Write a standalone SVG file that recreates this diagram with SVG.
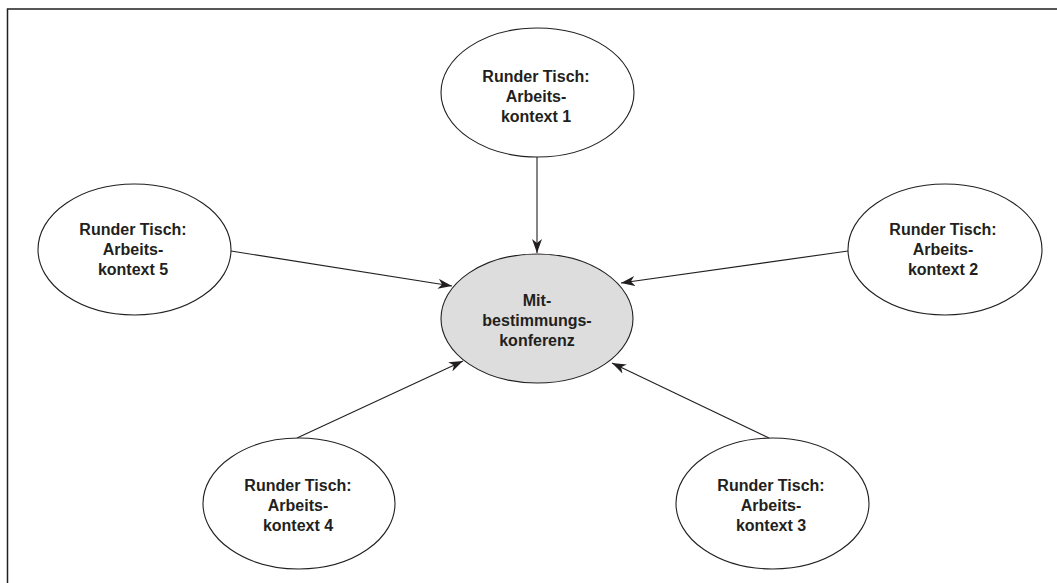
<svg xmlns="http://www.w3.org/2000/svg" width="1057" height="583" viewBox="0 0 1057 583">
<style>
.node ellipse{fill:#fff;stroke:#231f20;stroke-width:1.1}
#center ellipse{fill:#dddddd}
.node text{font-family:"Liberation Sans",Arial,sans-serif;font-weight:bold;font-size:16px;fill:#231f20;text-anchor:middle}
.conn line{stroke:#231f20;stroke-width:1.1;fill:none;marker-end:url(#arr)}
.frame{stroke:#231f20;stroke-width:1.5;fill:none}
</style>
<defs>
<marker id="arr" viewBox="0 0 14 10" refX="14" refY="5" markerWidth="14" markerHeight="10" markerUnits="userSpaceOnUse" orient="auto">
<path d="M0,0 L14,5 L0,10 L4,5 z" fill="#231f20"/>
</marker>
</defs>
<rect width="1057" height="583" fill="#fff"/>
<path class="frame" d="M7.5,583 V9 H1057"/>
<g class="conn" id="connectors">
<line x1="537" y1="157" x2="537" y2="253"/>
<line x1="231" y1="251" x2="452" y2="286"/>
<line x1="848" y1="251" x2="621" y2="283"/>
<line x1="297" y1="438" x2="463" y2="361"/>
<line x1="769" y1="438" x2="612" y2="363"/>
</g>
<g class="node" id="center">
<ellipse cx="537" cy="318.5" rx="96" ry="64.5"/>
<text x="537" y="306">Mit-</text>
<text x="537" y="326">bestimmungs-</text>
<text x="537" y="346">konferenz</text>
</g>
<g class="node" id="kontext1">
<ellipse cx="537.5" cy="92.5" rx="96.5" ry="64.5"/>
<text x="536" y="82">Runder Tisch:</text>
<text x="536" y="102">Arbeits-</text>
<text x="536" y="122">kontext 1</text>
</g>
<g class="node" id="kontext2">
<ellipse cx="945" cy="249.5" rx="97" ry="65.5"/>
<text x="943" y="235">Runder Tisch:</text>
<text x="943" y="255">Arbeits-</text>
<text x="943" y="275">kontext 2</text>
</g>
<g class="node" id="kontext3">
<ellipse cx="772.5" cy="503.5" rx="96.5" ry="65.5"/>
<text x="771" y="491">Runder Tisch:</text>
<text x="771" y="511">Arbeits-</text>
<text x="771" y="531">kontext 3</text>
</g>
<g class="node" id="kontext4">
<ellipse cx="299" cy="503.5" rx="96" ry="65.5"/>
<text x="298" y="491">Runder Tisch:</text>
<text x="298" y="511">Arbeits-</text>
<text x="298" y="531">kontext 4</text>
</g>
<g class="node" id="kontext5">
<ellipse cx="134.5" cy="249.5" rx="96.5" ry="65.5"/>
<text x="133" y="235">Runder Tisch:</text>
<text x="133" y="255">Arbeits-</text>
<text x="133" y="275">kontext 5</text>
</g>
</svg>
